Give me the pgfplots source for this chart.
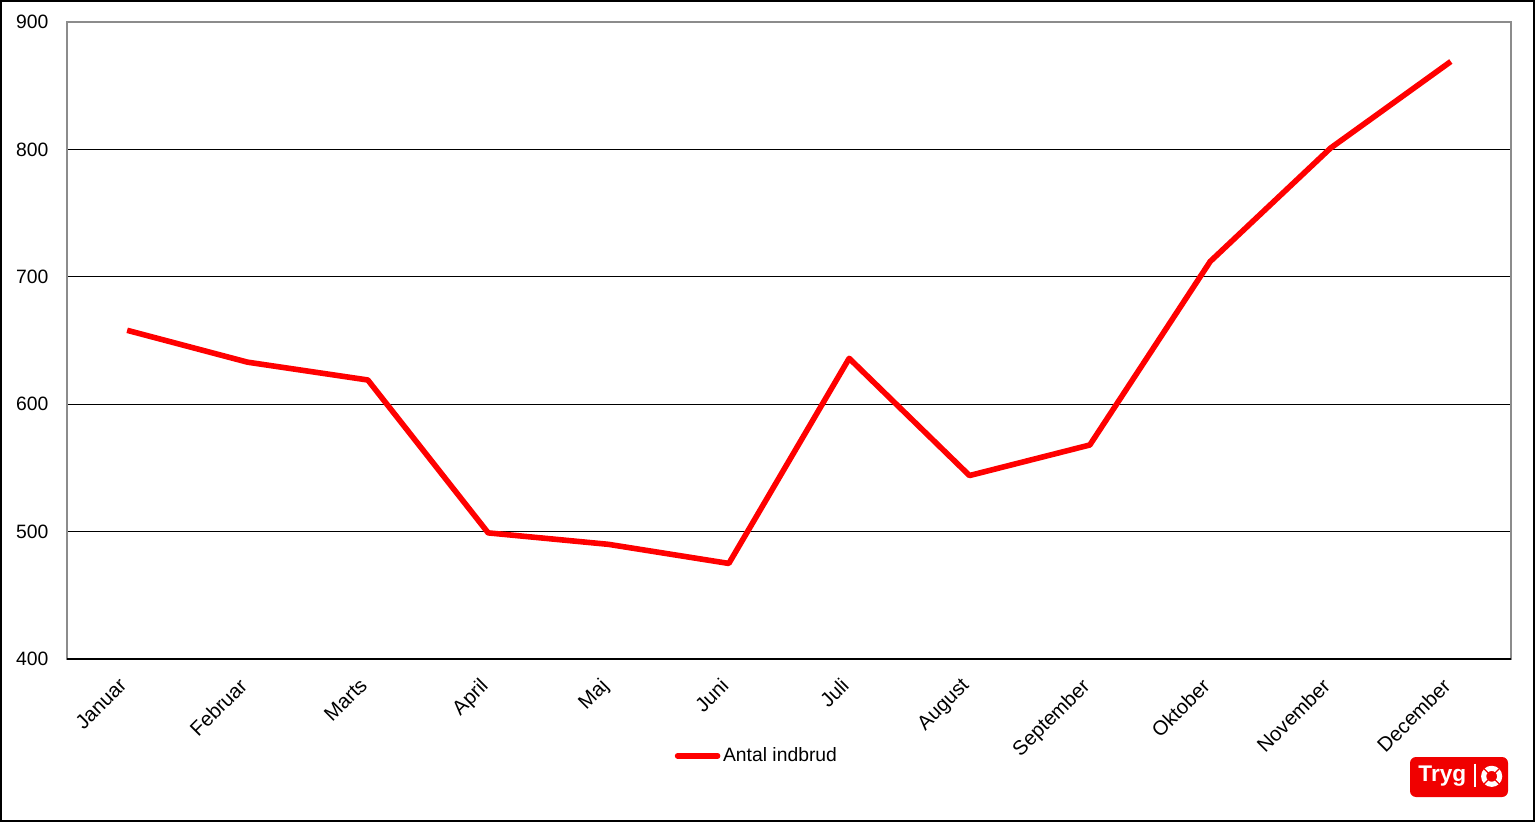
\documentclass[border=0pt]{standalone}
\usepackage{pgfplots}
\pgfplotsset{compat=1.18}
\usepackage{fontspec}
\setmainfont{Liberation Sans}
\definecolor{trygred}{HTML}{F00000}
\begin{document}
\begin{tikzpicture}[x=1pt,y=1pt]
\fontsize{14.5}{17}\selectfont
\useasboundingbox (-50.25,-122.25) rectangle (1101,494.25);
\draw[black, line width=1.2pt] (-49.65,-121.65) rectangle (1100.4,493.65);
\begin{axis}[
  at={(0,0)}, anchor=south west,
  scale only axis, width=1083pt, height=477.75pt,
  xmin=-0.5, xmax=11.5, ymin=400, ymax=900,
  xtick={0,...,11},
  xticklabels={Januar,Februar,Marts,April,Maj,Juni,Juli,August,September,Oktober,November,December},
  xticklabel style={rotate=45, anchor=north east, font=\fontsize{15.2}{17}\selectfont, xshift=-9.5pt, yshift=0.5pt},
  ytick={400,500,...,900},
  yticklabel style={font=\fontsize{14.5}{17}\selectfont, xshift=-9pt},
  /pgf/number format/assume math mode=true,
  major tick length=0pt,
  ymajorgrids, grid style={black, line width=0.6pt},
  axis line style={gray!90, line width=1pt},
  legend style={at={(0.478,-0.152)}, anchor=center, draw=none, fill=none, font=\fontsize{14.5}{17}\selectfont, inner sep=0pt},
  legend image code/.code={\draw[#1, line cap=round] (0pt,0pt) -- (30pt,0pt);},
]
\addplot[red, line width=4.2pt, line join=round] coordinates {
(0,658) (1,633) (2,619) (3,499) (4,490) (5,475) (6,636) (7,544) (8,568) (9,712) (10,801) (11,869)
};
\addlegendentry{Antal indbrud}
\draw[black, line width=1pt] (axis cs:-0.5,400) -- (axis cs:11.5,400);
\end{axis}
% Tryg logo
\fill[trygred, rounded corners=4.5pt] (1007.25,-73.5) rectangle (1080.75,-103.5);
\node[white, font=\fontsize{17}{18}\bfseries\selectfont, anchor=center] at (1031.5,-88) {Tryg};
\draw[white, line width=0.8pt] (1056,-78.5) -- (1056,-96);
\draw[white, line width=3.8pt] (1068.5,-88) circle (6pt);
\foreach \a in {45,135,225,315}{
  \draw[trygred, line width=0.9pt] (1068.5,-88) ++(\a:3.6pt) -- ++(\a:4.8pt);
}
\end{tikzpicture}
\end{document}
